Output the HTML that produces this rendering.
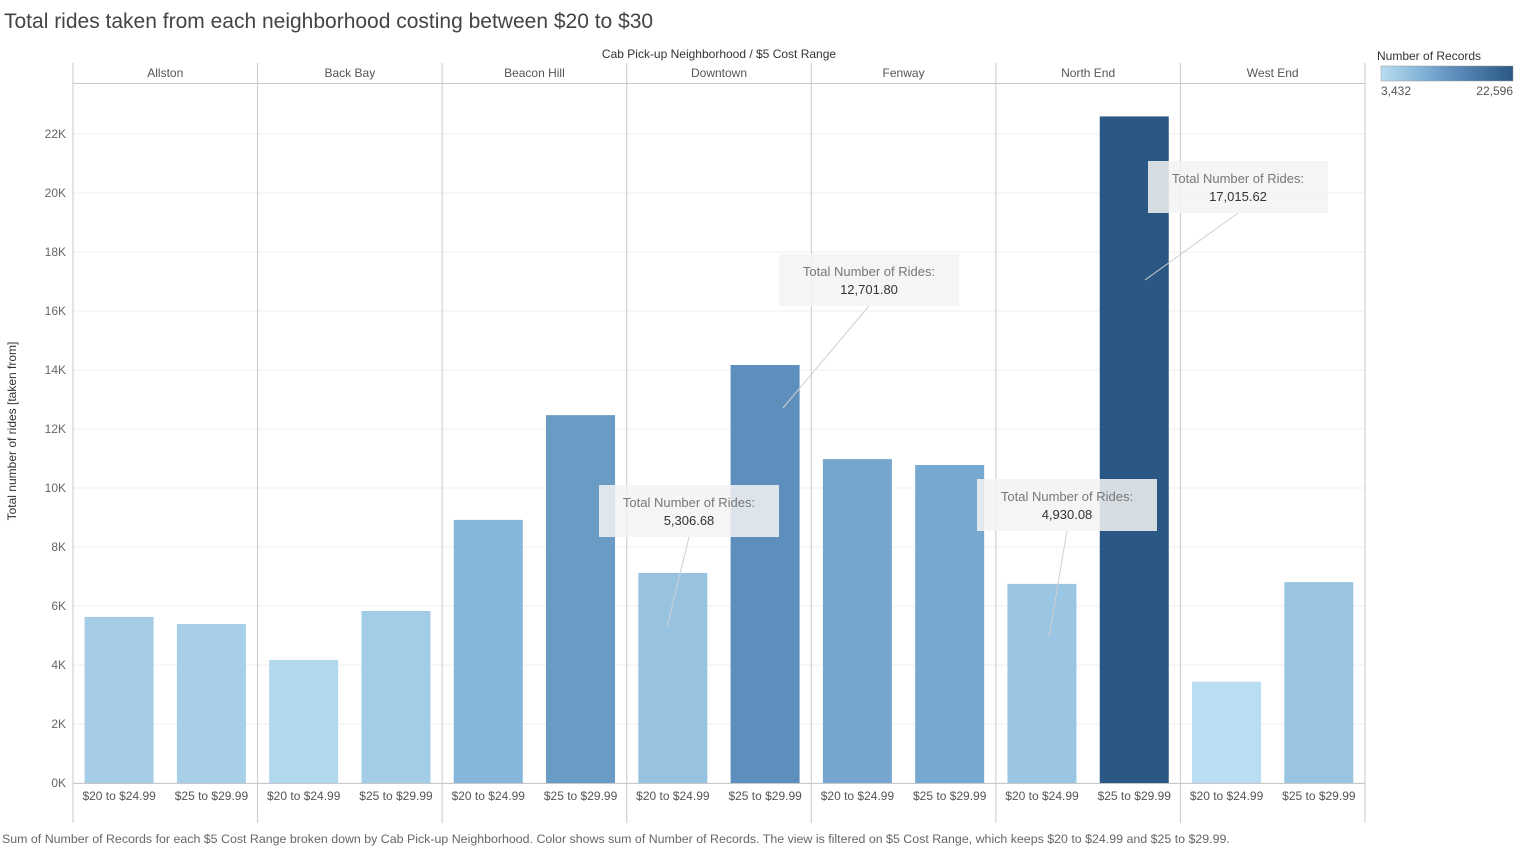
<!DOCTYPE html>
<html><head><meta charset="utf-8">
<style>
body{margin:0;background:#fff;font-family:"Liberation Sans",sans-serif;}
svg text{font-family:"Liberation Sans",sans-serif;}
</style></head>
<body>
<svg id="chart" width="1517" height="849" xmlns="http://www.w3.org/2000/svg">
<text x="4" y="28" font-size="21" fill="#444">Total rides taken from each neighborhood costing between $20 to $30</text>
<text x="719" y="58" font-size="12" fill="#333" text-anchor="middle">Cab Pick-up Neighborhood  /  $5 Cost Range</text>
<text x="16" y="431" font-size="12" fill="#333" text-anchor="middle" transform="rotate(-90 16 431)">Total number of rides [taken from]</text>
<g id="grid"></g>
<g id="bars"></g>
<g id="frame"></g>
<g id="notes"></g>
<g>
<defs><linearGradient id="lg" x1="0" x2="1"><stop offset="0" stop-color="#b9ddf1"/><stop offset="0.3" stop-color="#84b4d8"/><stop offset="0.55" stop-color="#5e8fbd"/><stop offset="1" stop-color="#2a5783"/></linearGradient></defs>
<text x="1377" y="60" font-size="12" fill="#333">Number of Records</text>
<rect x="1381" y="66" width="132" height="15" fill="url(#lg)" stroke="#999" stroke-width="0.5"/>
<text x="1381" y="95" font-size="12" fill="#555">3,432</text>
<text x="1513" y="95" font-size="12" fill="#555" text-anchor="end">22,596</text>
</g>
<text x="2" y="843" font-size="12.4" fill="#666">Sum of Number of Records for each $5 Cost Range broken down by Cab Pick-up Neighborhood.  Color shows sum of Number of Records. The view is filtered on $5 Cost Range, which keeps $20 to $24.99 and $25 to $29.99.</text>
</svg>
<script>
const neighborhoods=["Allston","Back Bay","Beacon Hill","Downtown","Fenway","North End","West End"];
const ranges=["$20 to $24.99","$25 to $29.99"];
const values20=[5630,4170,8920,7120,10980,6750,3432];
const values25=[5390,5830,12470,14170,10780,22596,6810];
const yTicks=[0,2000,4000,6000,8000,10000,12000,14000,16000,18000,20000,22000];
const yTickLabels=["0K","2K","4K","6K","8K","10K","12K","14K","16K","18K","20K","22K"];
const noteValues=["5,306.68","12,701.80","17,015.62","4,930.08"];

const NS="http://www.w3.org/2000/svg";
const X0=73,X1=1365,Y0=783,YT=134;
const pw=(X1-X0)/neighborhoods.length;
const y=v=>Y0-(v/22000)*(Y0-YT);
const minV=Math.min(...values20,...values25),maxV=Math.max(...values20,...values25);
const stops=[[0,[185,221,241]],[0.3,[132,180,216]],[0.55,[94,143,189]],[1,[42,87,131]]];
function col(v){const t=Math.max(0,Math.min(1,(v-minV)/(maxV-minV||1)));
let i=0;while(i<stops.length-2&&t>stops[i+1][0])i++;
const [ta,a]=stops[i],[tb,b]=stops[i+1];const u=(t-ta)/(tb-ta);
return "rgb("+a.map((c,k)=>Math.round(c+(b[k]-c)*u)).join(",")+")";}
function mk(tag,attrs,parent,txt){const e=document.createElementNS(NS,tag);for(const k in attrs)e.setAttribute(k,attrs[k]);if(txt!==undefined)e.textContent=txt;parent.appendChild(e);return e;}
const grid=document.getElementById("grid"),bars=document.getElementById("bars"),frame=document.getElementById("frame"),notes=document.getElementById("notes");
yTicks.forEach((t,i)=>{
  const l=mk("line",{x1:X0,x2:X1,y1:y(t),y2:y(t),stroke:"#efefef"},grid);
  
  
  const tx=mk("text",{x:66,y:y(t)+4,"font-size":12,fill:"#666","text-anchor":"end"},grid,yTickLabels[i]);
  
  
});
neighborhoods.forEach((n,p)=>{
  const px=X0+p*pw;
  const h=mk("text",{x:px+pw/2,y:77,"font-size":12,fill:"#555","text-anchor":"middle"},frame,n);
  
  
  [values20[p],values25[p]].forEach((v,s)=>{
    const bx=px+s*pw/2+11.6;
    const r=mk("rect",{x:bx,y:y(v),width:69,height:Y0-y(v),fill:col(v)},bars);
    
    
    const tl=mk("text",{x:px+s*pw/2+pw/4,y:800,"font-size":12,fill:"#555","text-anchor":"middle"},frame,ranges[s]);
    
    
  });
});
for(let i=0;i<=neighborhoods.length;i++){
  const x=X0+i*pw;
  const l=mk("line",{x1:x,x2:x,y1:63,y2:823,stroke:"#c8c8c8"},frame);
  
  
}
const hl=mk("line",{x1:X0,x2:X1,y1:83.5,y2:83.5,stroke:"#c8c8c8"},frame);


const bl=mk("line",{x1:X0,x2:X1,y1:783.5,y2:783.5,stroke:"#c8c8c8"},frame);


const boxes=[[599,485],[779,254],[1148,161],[977,479]];
const targets=[[667,627],[783,408],[1145,280],[1049,637]];
noteValues.forEach((v,i)=>{
  const [bx,by]=boxes[i];
  const g=mk("g",{},notes);
  
  
  mk("line",{x1:bx+90,y1:by+52,x2:targets[i][0],y2:targets[i][1],stroke:"#d0d0d0"},g);
  mk("rect",{x:bx,y:by,width:180,height:52,fill:"#f3f3f3","fill-opacity":0.85},g);
  mk("text",{x:bx+90,y:by+22,"font-size":13,fill:"#777","text-anchor":"middle"},g,"Total Number of Rides:");
  mk("text",{x:bx+90,y:by+40,"font-size":13,fill:"#333","text-anchor":"middle"},g,v);
});
</script>
</body></html>
